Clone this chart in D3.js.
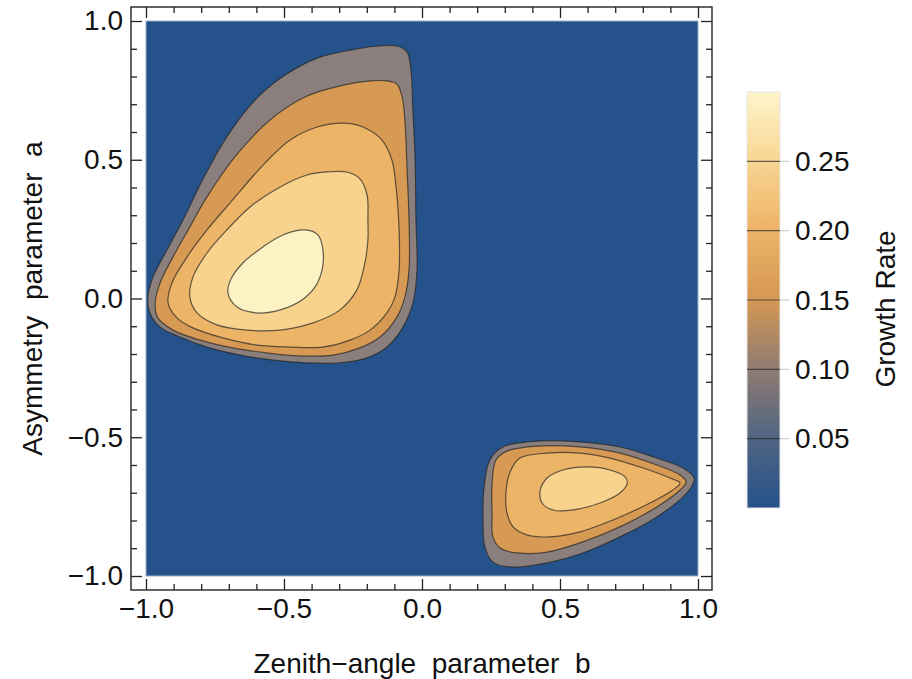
<!DOCTYPE html>
<html>
<head>
<meta charset="utf-8">
<script src="https://cdn.jsdelivr.net/npm/d3@7"></script>
<style>
body { margin: 0; background: #fff; }
text { font-family: "Liberation Sans", Arial, sans-serif; }
</style>
</head>
<body>
<svg></svg>
<script>
// contour levels and the fill of each band (band i lies between level i-1 and level i)
const levels = [0.05, 0.10, 0.15, 0.20, 0.25];
const bandColors = ['#25528a', '#8b7f7d', '#d79a54', '#ecb467', '#f7d38d', '#fdf2c3'];

// colour bar gradient stops
const barStops = [0, 0.05, 0.10, 0.15, 0.20, 0.25, 0.30];
const barColors = ['#25528a', '#4f6482', '#8f7c72', '#d49754', '#ecb366', '#f8d592', '#fff5cb'];

// contour rings, [b, a] pairs
// upper-left lobe
const upper005 = [[-0.091,0.910],[-0.054,0.888],[-0.040,0.823],[-0.033,0.679],[-0.025,0.499],[-0.022,0.283],
  [-0.018,0.103],[-0.033,-0.016],[-0.069,-0.103],[-0.127,-0.175],[-0.199,-0.214],[-0.297,-0.232],[-0.417,-0.232],
  [-0.540,-0.222],[-0.659,-0.204],[-0.779,-0.175],[-0.877,-0.139],[-0.949,-0.103],[-0.986,-0.052],[-0.993,0.005],
  [-0.975,0.077],[-0.924,0.175],[-0.866,0.283],[-0.786,0.445],[-0.703,0.589],[-0.605,0.715],[-0.496,0.805],
  [-0.377,0.867],[-0.261,0.895],[-0.159,0.910]];
const upper010 = [[-0.127,0.784],[-0.091,0.773],[-0.072,0.726],[-0.062,0.643],[-0.054,0.463],[-0.047,0.283],
  [-0.047,0.103],[-0.062,0.005],[-0.091,-0.067],[-0.152,-0.139],[-0.225,-0.178],[-0.322,-0.204],[-0.442,-0.207],
  [-0.562,-0.196],[-0.685,-0.178],[-0.804,-0.150],[-0.902,-0.114],[-0.957,-0.070],[-0.967,-0.016],[-0.949,0.056],
  [-0.902,0.150],[-0.841,0.258],[-0.779,0.366],[-0.678,0.510],[-0.551,0.643],[-0.424,0.726],[-0.297,0.766],
  [-0.188,0.784]];
const upper015 = [[-0.286,0.632],[-0.214,0.618],[-0.145,0.571],[-0.109,0.499],[-0.094,0.402],[-0.083,0.247],
  [-0.083,0.103],[-0.098,0.005],[-0.127,-0.052],[-0.188,-0.114],[-0.261,-0.150],[-0.359,-0.175],[-0.478,-0.175],
  [-0.598,-0.168],[-0.721,-0.142],[-0.830,-0.106],[-0.888,-0.070],[-0.920,-0.016],[-0.906,0.056],[-0.851,0.150],
  [-0.779,0.247],[-0.696,0.344],[-0.569,0.488],[-0.478,0.571],[-0.380,0.618]];
const upper020 = [[-0.344,0.456],[-0.272,0.456],[-0.225,0.431],[-0.199,0.373],[-0.196,0.283],[-0.196,0.211],
  [-0.207,0.128],[-0.236,0.031],[-0.297,-0.041],[-0.395,-0.088],[-0.514,-0.114],[-0.634,-0.114],[-0.743,-0.095],
  [-0.815,-0.052],[-0.841,0.005],[-0.830,0.077],[-0.779,0.164],[-0.707,0.247],[-0.623,0.330],[-0.514,0.402],
  [-0.417,0.445]];
const upper025 = [[-0.424,0.247],[-0.377,0.229],[-0.359,0.175],[-0.362,0.103],[-0.388,0.041],[-0.435,-0.005],
  [-0.514,-0.041],[-0.598,-0.052],[-0.670,-0.031],[-0.703,0.020],[-0.692,0.070],[-0.649,0.128],[-0.576,0.186],
  [-0.504,0.229]];

// lower-right lobe
const lower005 = [[0.293,-0.535],[0.417,-0.514],[0.572,-0.517],[0.717,-0.535],[0.851,-0.575],[0.946,-0.611],
  [0.986,-0.647],[0.978,-0.676],[0.946,-0.715],[0.851,-0.787],[0.717,-0.859],[0.583,-0.917],[0.453,-0.953],
  [0.330,-0.968],[0.257,-0.950],[0.228,-0.896],[0.221,-0.787],[0.225,-0.679],[0.246,-0.582]];
const lower010 = [[0.308,-0.550],[0.417,-0.532],[0.572,-0.535],[0.717,-0.557],[0.851,-0.600],[0.935,-0.636],
  [0.957,-0.661],[0.935,-0.690],[0.851,-0.751],[0.717,-0.823],[0.583,-0.877],[0.453,-0.914],[0.344,-0.917],
  [0.283,-0.899],[0.257,-0.859],[0.254,-0.773],[0.254,-0.665],[0.268,-0.582]];
const lower015 = [[0.355,-0.575],[0.453,-0.557],[0.572,-0.557],[0.681,-0.575],[0.801,-0.611],[0.899,-0.647],
  [0.935,-0.665],[0.909,-0.690],[0.826,-0.737],[0.692,-0.798],[0.572,-0.841],[0.464,-0.859],[0.380,-0.852],
  [0.330,-0.823],[0.308,-0.773],[0.304,-0.701],[0.319,-0.625]];
const lower020 = [[0.453,-0.647],[0.511,-0.618],[0.598,-0.607],[0.681,-0.618],[0.736,-0.643],[0.743,-0.668],
  [0.717,-0.701],[0.645,-0.737],[0.547,-0.762],[0.475,-0.762],[0.435,-0.737],[0.428,-0.694]];

const rings = [
  {level: 0.05, pts: upper005}, {level: 0.10, pts: upper010}, {level: 0.15, pts: upper015},
  {level: 0.20, pts: upper020}, {level: 0.25, pts: upper025},
  {level: 0.05, pts: lower005}, {level: 0.10, pts: lower010}, {level: 0.15, pts: lower015},
  {level: 0.20, pts: lower020}
];

const majorTicks = [-1, -0.5, 0, 0.5, 1];
const minorTicks = d3.range(-10, 11).map(i => i / 10).filter(v => majorTicks.indexOf(v) < 0);
const barTicks = [0.05, 0.10, 0.15, 0.20, 0.25];

const size = {w: 912, h: 679};
const frame = {l: 131, r: 712, t: 7, b: 590};
const fontSize = 28;
const svg = d3.select('svg').attr('width', size.w).attr('height', size.h);

const x = d3.scaleLinear().domain([-1, 1]).range([146, 698]);
const y = d3.scaleLinear().domain([-1, 1]).range([576, 21]);

// background = lowest band
svg.append('rect')
  .attr('x', x(-1)).attr('y', y(1))
  .attr('width', x(1) - x(-1)).attr('height', y(-1) - y(1))
  .attr('fill', bandColors[0])
  .attr('stroke', '#9fb2cb').attr('stroke-width', 1);

const line = d3.line()
  .x(d => x(d[0]))
  .y(d => y(d[1]))
  .curve(d3.curveCatmullRomClosed.alpha(0.5));

svg.append('g').selectAll('path')
  .data(rings)
  .enter()
  .append('path')
  .attr('d', d => line(d.pts))
  .attr('fill', d => bandColors[levels.indexOf(d.level) + 1])
  .attr('stroke', 'rgba(35,35,35,0.7)')
  .attr('stroke-width', 1.2);

// frame
svg.append('rect')
  .attr('x', frame.l).attr('y', frame.t)
  .attr('width', frame.r - frame.l).attr('height', frame.b - frame.t)
  .attr('fill', 'none').attr('stroke', '#222').attr('stroke-width', 1.4);

const fmt = d3.format('.1f');
function frameAxis(axisFn, scale, tr, labels) {
  let g = svg.append('g').attr('transform', tr);
  g.append('g').call(axisFn(scale).tickValues(majorTicks).tickSize(-11).tickPadding(8)
    .tickFormat(labels ? fmt : ''));
  g.append('g').call(axisFn(scale).tickValues(minorTicks).tickSize(-6).tickFormat(''));
  g.selectAll('.domain').remove();
  g.selectAll('line').attr('stroke', '#222').attr('stroke-width', 1.3);
  g.selectAll('text').attr('font-size', fontSize).attr('font-family', '"Liberation Sans", Arial, sans-serif')
    .attr('fill', '#111');
}
frameAxis(d3.axisBottom, x, `translate(0,${frame.b})`, true);
frameAxis(d3.axisTop, x, `translate(0,${frame.t})`, false);
frameAxis(d3.axisLeft, y, `translate(${frame.l},0)`, true);
frameAxis(d3.axisRight, y, `translate(${frame.r},0)`, false);

// axis titles
svg.append('text')
  .attr('x', x(0)).attr('y', 673)
  .attr('text-anchor', 'middle').attr('font-size', fontSize).attr('fill', '#111')
  .style('white-space', 'pre')
  .text('Zenith\u2212angle  parameter  b');
svg.append('text')
  .attr('transform', `translate(42,${y(0)}) rotate(-90)`)
  .attr('text-anchor', 'middle').attr('font-size', fontSize).attr('fill', '#111')
  .style('white-space', 'pre')
  .text('Asymmetry  parameter  a');

// colour bar
const bar = {x: 747, w: 33};
const c = d3.scaleLinear().domain([0, 0.30]).range([508, 92]);
const grad = svg.append('defs').append('linearGradient')
  .attr('id', 'bargrad').attr('x1', 0).attr('x2', 0).attr('y1', 1).attr('y2', 0);
grad.selectAll('stop').data(barStops).enter().append('stop')
  .attr('offset', d => d / 0.30)
  .attr('stop-color', (d, i) => barColors[i]);

svg.append('rect')
  .attr('x', bar.x).attr('y', c(0.30))
  .attr('width', bar.w).attr('height', c(0) - c(0.30))
  .attr('fill', 'url(#bargrad)')
  .attr('stroke', '#e6e6e6').attr('stroke-width', 1);

const bt = svg.append('g').selectAll('g').data(barTicks).enter().append('g');
bt.append('line')
  .attr('x1', bar.x).attr('x2', bar.x + bar.w)
  .attr('y1', d => c(d)).attr('y2', d => c(d))
  .attr('stroke', 'rgba(40,40,40,0.7)').attr('stroke-width', 1.2);
bt.append('line')
  .attr('x1', bar.x + bar.w).attr('x2', bar.x + bar.w + 9)
  .attr('y1', d => c(d)).attr('y2', d => c(d))
  .attr('stroke', '#d0d0d0').attr('stroke-width', 1.2);
bt.append('text')
  .attr('x', 795).attr('y', d => c(d))
  .attr('dy', '0.35em').attr('font-size', fontSize).attr('fill', '#111')
  .text(d => d3.format('.2f')(d));

svg.append('text')
  .attr('transform', `translate(895,${309}) rotate(-90)`)
  .attr('text-anchor', 'middle').attr('font-size', fontSize).attr('fill', '#111')
  .text('Growth Rate');
</script>
</body>
</html>
